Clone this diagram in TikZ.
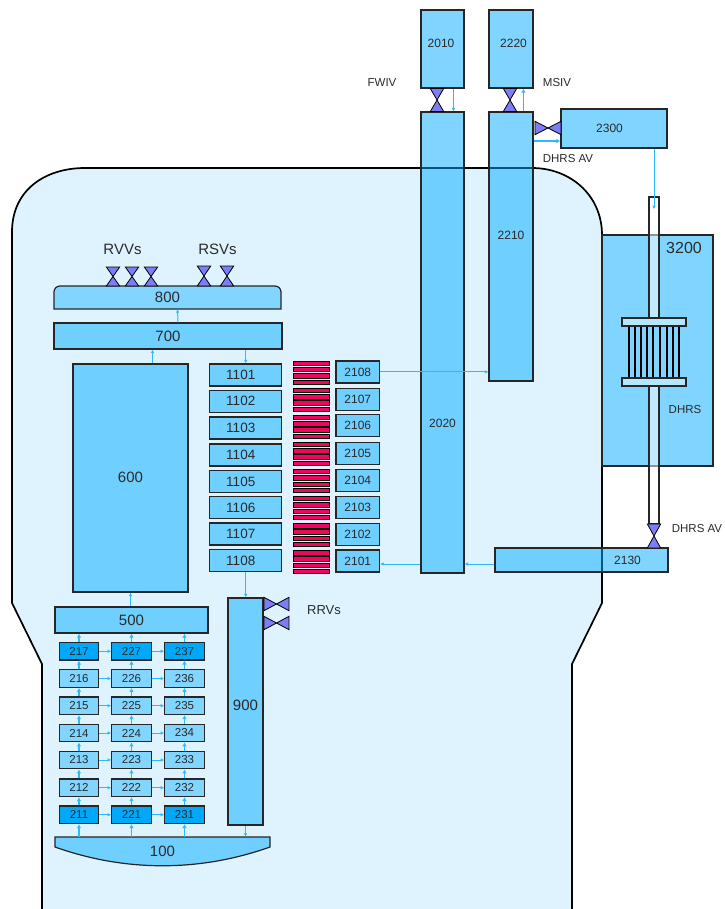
\documentclass[tikz,border=0pt]{standalone}
\usepackage{xcolor}
\usepackage{fontspec}
\setmainfont{Liberation Sans}
\usetikzlibrary{arrows.meta}
\definecolor{vessel}{HTML}{DFF3FF}
\definecolor{coolant}{HTML}{00ACFF}
\definecolor{core}{HTML}{00A8FA}
\definecolor{flow}{HTML}{2CB9FF}
\definecolor{valveblue}{HTML}{7D7DF5}
\definecolor{heater}{HTML}{F2055F}
\definecolor{barblue}{HTML}{B4E6FF}
\definecolor{ink}{HTML}{2A2A2A}

\begin{document}
\begin{tikzpicture}[
  x=1pt,y=-1pt,
  fs/.style={font=\fontsize{#1}{#1}\selectfont},
  every label/.style={fs=12,text=ink,inner sep=0pt},
  edge/.style={draw=black!85,line width=1.2pt},
  box/.style 2 args={edge,fill=coolant,fill opacity=.5,text opacity=1,minimum width=#1,minimum height=#2,inner sep=0pt,text=ink,fs=15},
  lightbox/.style 2 args={box={#1}{#2},fill opacity=.42},
  darkbox/.style 2 args={box={#1}{#2},fill=core,fill opacity=1},
  tubebox/.style={edge,line width=1.5pt,fill=white,fill opacity=.5,minimum width=10,inner sep=0pt},
  barbox/.style={edge,line width=1.4pt,fill=barblue,minimum width=64,minimum height=8,inner sep=0pt},
  heaterbar/.style={draw=black,line width=.6pt,fill=heater,minimum width=36,minimum height=4.4,inner sep=0pt},
  tag/.style={text=ink,inner sep=0pt,fs=#1},
  arrow/.style={-{Latex[length=3.5pt,width=3.5pt]},draw=flow,line width=1pt},
  thickarrow/.style={-{Latex[length=4pt,width=4.5pt]},draw=flow,line width=1.5pt},
  pics/valve/.style={code={
    \draw[black,line width=.8pt,fill=valveblue] (-6.7,-#1) -- (6.7,-#1) -- (0,0) -- cycle;
    \draw[black,line width=.8pt,fill=valveblue] (-6.7,#1) -- (6.7,#1) -- (0,0) -- cycle;
  }}
]
\useasboundingbox (0,0) rectangle (724,909);
% containment
\fill[vessel] (42,909) -- (42,664) -- (12,603) -- (12,232) .. controls (12,190) and (45,168) .. (85,168) -- (532,168) .. controls (570,168) and (602,195) .. (602,235) -- (602,603) -- (572,664) -- (572,909) -- cycle;
\draw[black,line width=1.7pt] (42,909) -- (42,664) -- (12,603) -- (12,232) .. controls (12,190) and (45,168) .. (85,168) -- (532,168) .. controls (570,168) and (602,195) .. (602,235) -- (602,603) -- (572,664) -- (572,909);
% secondary side
\node[box={43}{78},label={[xshift=-1.5,yshift=6]center:2010}] (n2010) at (442.5,49) {};
\node[box={44}{78},label={[xshift=2.5,yshift=5.5]center:2220}] (n2220) at (511,49) {};
\node[box={43}{461},label={[yshift=-80.5]center:2020}] (n2020) at (442.5,342.5) {};
\node[box={44}{269},label={[yshift=11.5]center:2210}] (n2210) at (511,246.5) {};
\node[box={106}{39},label={[xshift=-4.5]center:2300}] (n2300) at (614,128.5) {};
\node[box={173}{24},label={[xshift=46]center:2130}] (n2130) at (581.5,560) {};
\node[box={111}{231}] (n3200) at (657.5,350.5) {};
\node[tag=16] (lab3200) at (684,248) {3200};
% heat exchanger
\node[tubebox,minimum height=121] (tubeup) at (654,257.5) {};
\node[tubebox,minimum height=138] (tubedown) at (654,455) {};
\foreach \tx in {629,635,641,647,653,660,667,673,679}
  \draw[black,line width=1.4pt] (\tx,326) -- (\tx,378);
\node[barbox] (bartop) at (654,322) {};
\node[barbox] (barbottom) at (654,382) {};
% primary side
\draw[edge,fill=coolant,fill opacity=.42] (54,309) [rounded corners=6] -- (54,286) -- (281,286) [sharp corners] -- (281,309) -- cycle;
\node[minimum width=227,minimum height=23,inner sep=0pt,text=ink,fs=15] (n800) at (167.5,297.5) {800};
\node[box={228}{26}] (n700) at (168,336) {700};
\node[box={115}{228},label={[fs=15,yshift=1]center:600}] (n600) at (130.5,478) {};
\node[box={153}{26}] (n500) at (131.5,620) {500};
\node[box={35}{227},label={[fs=15,yshift=6.5]center:900}] (n900) at (245.5,711.5) {};
\draw[edge,fill=coolant,fill opacity=.5] (55,837) -- (270,837) -- (270,847) .. controls (200,872) and (125,872) .. (55,847) -- cycle;
\node[minimum width=215,minimum height=29,inner sep=0pt,text=ink,fs=15] (n100) at (162.5,851.5) {100};
\foreach \num/\ry in {1101/375,1102/401.3,1103/428,1104/455,1105/481.5,1106/507.8,1107/534,1108/560.5}
  \node[box={72}{22},label={[fs=13.5,xshift=-5]center:\num}] (n\num) at (245.75,\ry) {};
\foreach \num/\ry in {2108/371.9,2107/399.2,2106/425.8,2105/453.5,2104/480.5,2103/507.2,2102/534.5,2101/561}
  \node[box={43.5}{22},fs=12] (n\num) at (357.75,\ry) {\num};
\foreach \g in {0,...,7}
  \foreach \b in {0,...,3}
    \node[heaterbar] (bar\g\b) at (310.8,363.3+\g*27.05+\b*6.25) {};
% core channels
\foreach \col/\cx in {1/79,2/131.5,3/184.5}
  \foreach \row/\ry/\look in {1/814.75/darkbox,2/787.75/lightbox,3/760/lightbox,4/733/lightbox,5/705.75/lightbox,6/678.5/lightbox,7/651.25/darkbox}
    \node[\look={39.5}{17.5},fs=11.5] (n2\col\row) at (\cx,\ry) {2\col\row};
\foreach \row in {1,...,7} {
  \draw[arrow] (n21\row) -- (n22\row);
  \draw[arrow] (n22\row) -- (n23\row);
}
\foreach \col in {1,2,3} {
  \foreach \row/\nxt in {1/2,2/3,3/4,4/5,5/6,6/7}
    \draw[thickarrow] (n2\col\row) -- (n2\col\nxt);
  \draw[thickarrow] (n2\col1.south |- n100.north) -- (n2\col1.south);
  \draw[thickarrow] (n2\col7.north) -- (n2\col7.north |- n500.south);
}
% connections
\draw[arrow] (n600.south |- n500.north) -- (n600.south);
\draw[arrow] ([xshift=22]n600.north) -- ([xshift=22]n600.north |- n700.south);
\draw[arrow] ([xshift=10]n700.north) -- ([xshift=10]n800.south);
\draw[arrow] (n1101.north |- n700.south) -- (n1101.north);
\draw[arrow] (n1108.south) -- (n1108.south |- n900.north);
\draw[arrow] (n900.south) -- (n900.south |- n100.north);
\draw[arrow] (n2108.east) -- (n2108.east -| n2210.west);
\draw[arrow] ([yshift=-4]n2130.west) -- ([yshift=-4]n2130.west -| n2020.east);
\draw[arrow] ([yshift=-3]n2101.east -| n2020.west) -- ([yshift=-3]n2101.east);
\draw[arrow] ([xshift=11]n2010.south) -- ([xshift=11]n2020.north);
\draw[thickarrow] ([xshift=12.5]n2210.north) -- ([xshift=12.5]n2220.south);
\draw[thickarrow] ([yshift=-12.5]n2300.west -| n2210.east) -- ([yshift=-12.5]n2300.west);
\draw[arrow] (n2300.south -| tubeup.north) -- ([yshift=-13]tubeup.north);
% valves
\pic (fwiv) at (437,100) {valve=11.5};
\pic (msiv) at (510,100) {valve=11.5};
\pic[rotate=90] (avtop) at (548,128) {valve=13};
\pic (avbottom) at (654,536) {valve=12};
\foreach \vx in {113,132,151}
  \pic (rvv\vx) at (\vx,276.5) {valve=9.5};
\foreach \vx in {204,227}
  \pic (rsv\vx) at (\vx,276) {valve=10};
\foreach \vy in {604,623}
  \pic[rotate=90] (rrv\vy) at (276.5,\vy) {valve=12.5};
% labels
\node[tag=11.5] (labfwiv) at (382,83) {FWIV};
\node[tag=11.5] (labmsiv) at (557,83) {MSIV};
\node[tag=11.5] (labavtop) at (568,159) {DHRS AV};
\node[tag=11.5] (labavbottom) at (697,529) {DHRS AV};
\node[tag=11.5] (labdhrs) at (685,410) {DHRS};
\node[tag=15] (labrvv) at (122.5,249) {RVVs};
\node[tag=15] (labrsv) at (217.5,249) {RSVs};
\node[tag=13] (labrrv) at (324,610) {RRVs};
\end{tikzpicture}
\end{document}
